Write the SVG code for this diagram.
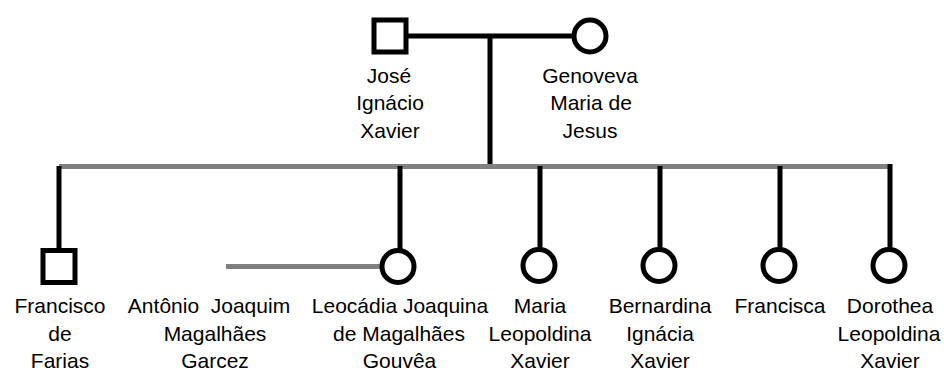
<svg xmlns="http://www.w3.org/2000/svg" width="944" height="372" viewBox="0 0 944 372">
<style>
.bl{stroke:#000;stroke-width:5;fill:none}
.gr{stroke:#808080;stroke-width:5;fill:none}
.m{fill:#fff;stroke:#000;stroke-width:5}
.f{fill:#fff;stroke:#000;stroke-width:5}
text{font-family:"Liberation Sans",Arial,sans-serif;font-size:21px;fill:#000;text-anchor:middle}
</style>
<rect width="944" height="372" fill="#fff"/>
<g id="connectors">
<line class="bl" x1="405" y1="36" x2="574" y2="36"/>
<line class="bl" x1="490" y1="36" x2="490" y2="166"/>
<line class="gr" x1="59" y1="166.5" x2="891" y2="166.5"/>
<line class="bl" x1="59" y1="166" x2="59" y2="250"/>
<line class="bl" x1="400" y1="166" x2="400" y2="250"/>
<line class="bl" x1="540" y1="166" x2="540" y2="249"/>
<line class="bl" x1="660" y1="166" x2="660" y2="249"/>
<line class="bl" x1="780" y1="166" x2="780" y2="249"/>
<line class="bl" x1="890" y1="164" x2="890" y2="249"/>
<line class="gr" x1="226" y1="266.5" x2="382" y2="266.5"/>
</g>
<g id="jose">
<rect class="m" x="374" y="20" width="32" height="32"/>
<text x="389" y="83">José</text>
<text x="390" y="110.3">Ignácio</text>
<text x="390" y="137.6">Xavier</text>
</g>
<g id="genoveva">
<circle class="f" cx="590" cy="36" r="16"/>
<text x="590" y="83">Genoveva</text>
<text x="591" y="110.3">Maria de</text>
<text x="590" y="137.6">Jesus</text>
</g>
<g id="francisco">
<rect class="m" x="43" y="250.5" width="32" height="32"/>
<text x="60" y="313">Francisco</text>
<text x="60" y="340.5">de</text>
<text x="60" y="368">Farias</text>
</g>
<g id="antonio">
<text x="209" y="313" xml:space="preserve">Antônio  Joaquim</text>
<text x="215" y="340.5">Magalhães</text>
<text x="215" y="368">Garcez</text>
</g>
<g id="leocadia">
<circle class="f" cx="398" cy="266.5" r="16"/>
<text x="400" y="313">Leocádia Joaquina</text>
<text x="399" y="340.5">de Magalhães</text>
<text x="399.5" y="368">Gouvêa</text>
</g>
<g id="maria">
<circle class="f" cx="539" cy="265.5" r="16"/>
<text x="540" y="313">Maria</text>
<text x="540" y="340.5">Leopoldina</text>
<text x="540" y="368">Xavier</text>
</g>
<g id="bernardina">
<circle class="f" cx="659" cy="265.5" r="16"/>
<text x="660" y="313">Bernardina</text>
<text x="660" y="340.5">Ignácia</text>
<text x="660" y="368">Xavier</text>
</g>
<g id="francisca">
<circle class="f" cx="779" cy="265.5" r="16"/>
<text x="780" y="313">Francisca</text>
</g>
<g id="dorothea">
<circle class="f" cx="889" cy="265.5" r="16"/>
<text x="890" y="313">Dorothea</text>
<text x="889" y="340.5">Leopoldina</text>
<text x="890" y="368">Xavier</text>
</g>
</svg>
